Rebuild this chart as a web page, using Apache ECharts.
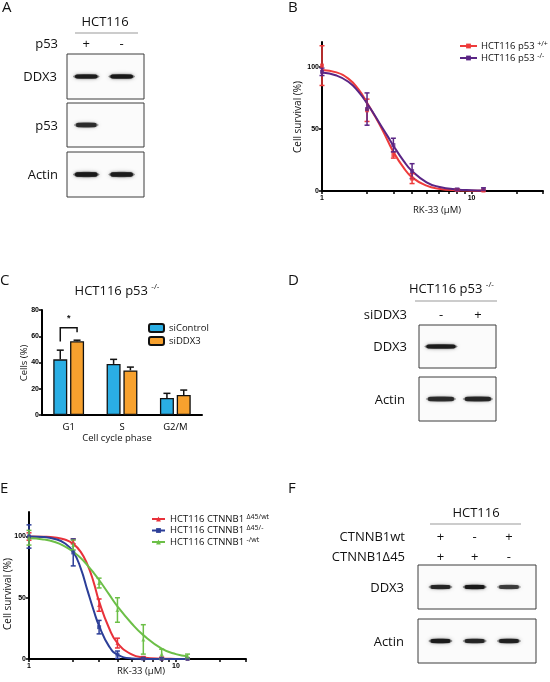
<!DOCTYPE html>
<html><head><meta charset="utf-8">
<script src="https://cdn.jsdelivr.net/npm/echarts@6/dist/echarts.min.js"></script>
<style>html,body{margin:0;padding:0;background:#fff}#c{width:550px;height:682px}</style>
</head><body><div id="c"></div><script>
// ================= DATA =================
// Panel B: RK-33 dose response, HCT116 p53+/+ vs p53-/-
const concB = [1, 2, 3, 4, 8, 12];
const bWtMean = [101, 65, 29, 10, 0.8, 0.3];
const bWtSd   = [16, 9, 2.5, 4, 0.6, 0.3];
const bKoMean = [96, 66, 37, 16, 1.2, 1.5];
const bKoSd   = [3, 13, 5.5, 6, 0.8, 1];
const curveXB = [1, 1.25, 1.5, 1.75, 2, 2.25, 2.5, 2.75, 3, 3.5, 4, 5, 6, 8, 10, 12];
const bWtCurve = [97.5, 95.5, 90.5, 82, 71, 60.5, 50.5, 40.5, 31.5, 19, 11, 4.3, 1.9, 0.6, 0.3, 0.2];
const bKoCurve = [95.5, 93, 88, 80, 70.5, 61, 52, 44, 36.5, 24.5, 16, 7, 3.5, 1.2, 0.6, 0.4];
const xTicksLog = [1, 2, 3, 4, 5, 6, 7, 8, 9, 10, 20, 30];
const xLabelsLog = [1, 10];
const yTicksSurv = [0, 50, 100];

// Panel C: cell cycle
const phases = ['G1', 'S', 'G2/M'];
const ctrlMean = [42.4, 38.9, 13];
const ctrlSd   = [7, 3.5, 3.5];
const ddxMean  = [56.2, 34, 15.2];
const ddxSd    = [0.8, 2.5, 3.8];
const sigBracket = [[0, 66.5, 56, 63]]; // [category, bracket y, left leg end, right leg end]

// Panel E: RK-33 dose response, CTNNB1 lines
const concE = [1, 2, 3, 4, 6, 8, 12];
const eD45wtMean = [100, 96, 44, 13, 1, 0.5, 0.2];
const eD45wtSd   = [3, 2, 5, 4, 1, 1, 0.5];
const eD45koMean = [100, 87, 26, 3.5, 0.3, 0.2, 0.1];
const eD45koSd   = [9.5, 11, 5.5, 3, 0.5, 0.5, 0.3];
const eKoWtMean  = [99, 93, 62, 40, 16, 4, 2];
const eKoWtSd    = [6, 4, 4, 10, 12, 4, 2];
const curveXE = [1, 1.25, 1.5, 1.75, 2, 2.25, 2.5, 2.75, 3, 3.5, 4, 5, 6, 8, 10, 12];
const eD45wtCurve = [100, 99.8, 99.2, 97.5, 94, 87.5, 77, 63, 47, 25.5, 13, 3.8, 1.3, 0.3, 0.1, 0];
const eD45koCurve = [100, 99.6, 98, 94.5, 87.5, 74, 56, 40, 27, 10.5, 3.6, 0.5, 0.1, 0, 0, 0];
const eKoWtCurve  = [98.5, 97.6, 95.5, 92, 87.5, 82.5, 76.5, 70.5, 64.5, 53, 43, 29, 19.5, 8.5, 4, 2.2];

// Western blots (band intensity 0..1 per lane)
const lanesA = [1, 2];
const signsA_p53 = ['+', '-'];
const bandA_DDX3 = [0.9, 0.95];
const bandA_p53 = [0.75, 0];
const bandA_Actin = [0.95, 0.9];

const lanesD = [1, 2];
const signsD_si = ['-', '+'];
const bandD_DDX3 = [0.9, 0];
const bandD_Actin = [0.75, 0.8];

const lanesF = [1, 2, 3];
const signsF_wt = ['+', '-', '+'];
const signsF_d45 = ['+', '+', '-'];
const bandF_DDX3 = [0.8, 0.95, 0.65];
const bandF_Actin = [0.9, 0.8, 0.85];

// ================= STYLE / LAYOUT =================
const FONT = "'Open Sans', 'Noto Sans', sans-serif";
const NUMFONT = "'Liberation Sans', Arial, sans-serif";
const C_RED = '#ee3b3b', C_PUR = '#5a2585';
const C_ERED = '#e8313a', C_EBLU = '#2c3e98', C_EGRN = '#6cbf47';
const C_SKY = '#2aaee4', C_ORG = '#f7a12e';

const chart = echarts.init(document.getElementById('c'), null, {renderer: 'canvas'});

const grids = [];
const xAxes = [];
const yAxes = [];
const series = [];
const graphics = [];

function logXAxis(gi) {
  return {
    type: 'log', logBase: 10, min: 1, max: 30, gridIndex: gi,
    axisLine: {lineStyle: {color: '#000', width: 2}},
    axisTick: {customValues: xTicksLog, length: 3, lineStyle: {color: '#000', width: 1.5}},
    axisLabel: {customValues: xLabelsLog, fontFamily: NUMFONT, fontWeight: 'bold', fontSize: 7, color: '#000', margin: 4},
    splitLine: {show: false}, minorTick: {show: false}
  };
}
function survYAxis(gi) {
  return {
    type: 'value', min: 0, max: 120, gridIndex: gi,
    axisLine: {show: true, lineStyle: {color: '#000', width: 2}},
    axisTick: {show: true, customValues: yTicksSurv, length: 3, lineStyle: {color: '#000', width: 1.5}},
    axisLabel: {customValues: yTicksSurv, fontFamily: NUMFONT, fontWeight: 'bold', fontSize: 7, color: '#000', margin: 3},
    splitLine: {show: false}
  };
}

function errRender(cap) {
  return function (params, api) {
    const x = api.value(0), m = api.value(1), s = api.value(2);
    const t = api.coord([x, m + s]), b = api.coord([x, Math.max(m - s, 0)]);
    const st = {stroke: api.visual('color'), lineWidth: 1.5};
    return {type: 'group', children: [
      {type: 'line', shape: {x1: t[0], y1: t[1], x2: b[0], y2: b[1]}, style: st},
      {type: 'line', shape: {x1: t[0] - cap, y1: t[1], x2: t[0] + cap, y2: t[1]}, style: st},
      {type: 'line', shape: {x1: b[0] - cap, y1: b[1], x2: b[0] + cap, y2: b[1]}, style: st}
    ]};
  };
}
function zip3(a, b, c) { return a.map((v, i) => [v, b[i], c[i]]); }
function zip2(a, b) { return a.map((v, i) => [v, b[i]]); }

function doseSeries(name, color, gi, cx, cy, px, pm, ps, sym) {
  series.push({
    name: name, type: 'line', xAxisIndex: gi, yAxisIndex: gi, data: zip2(cx, cy),
    smooth: 0.5, symbol: sym, symbolSize: 5, showSymbol: false,
    lineStyle: {color: color, width: 2}, itemStyle: {color: color}, z: 3
  });
  series.push({
    name: name + ' pts', type: 'scatter', xAxisIndex: gi, yAxisIndex: gi, data: zip2(px, pm),
    symbol: sym, symbolSize: 4, itemStyle: {color: color}, z: 4
  });
  series.push({
    name: name + ' err', type: 'custom', xAxisIndex: gi, yAxisIndex: gi, data: zip3(px, pm, ps),
    encode: {x: 0, y: 1}, renderItem: errRender(2.5), itemStyle: {color: color}, z: 4
  });
}

// ----- Panel B (grid 0)
grids.push({left: 322, top: 42, width: 221, height: 149});
xAxes.push(logXAxis(0));
yAxes.push(survYAxis(0));
const B_WT = 'HCT116 p53 +/+', B_KO = 'HCT116 p53 -/-';
doseSeries(B_WT, C_RED, 0, curveXB, bWtCurve, concB, bWtMean, bWtSd, 'rect');
doseSeries(B_KO, C_PUR, 0, curveXB, bKoCurve, concB, bKoMean, bKoSd, 'rect');

// ----- Panel C (grid 1)
grids.push({left: 42, top: 310, width: 160, height: 105});
xAxes.push({
  type: 'category', data: phases, gridIndex: 1,
  axisLine: {lineStyle: {color: '#000', width: 2}}, axisTick: {show: false},
  axisLabel: {fontFamily: FONT, fontSize: 9.5, color: '#000', margin: 7}
});
yAxes.push({
  type: 'value', min: 0, max: 80, interval: 20, gridIndex: 1,
  axisLine: {show: true, lineStyle: {color: '#000', width: 2}},
  axisTick: {show: true, length: 3, lineStyle: {color: '#000', width: 1.5}},
  axisLabel: {fontFamily: NUMFONT, fontWeight: 'bold', fontSize: 7, color: '#000', margin: 3},
  splitLine: {show: false}
});
const BAR_W = 14, BAR_GAP = 0.2;
const barOff = (BAR_W + BAR_W * BAR_GAP) / 2;
series.push({name: 'siControl', type: 'bar', xAxisIndex: 1, yAxisIndex: 1, data: ctrlMean,
  barWidth: BAR_W, barGap: (BAR_GAP * 100) + '%',
  itemStyle: {color: C_SKY, borderColor: '#111', borderWidth: 1.3}});
series.push({name: 'siDDX3', type: 'bar', xAxisIndex: 1, yAxisIndex: 1, data: ddxMean,
  barWidth: BAR_W, barGap: (BAR_GAP * 100) + '%',
  itemStyle: {color: C_ORG, borderColor: '#111', borderWidth: 1.3}});
function barErr(sign) {
  return function (params, api) {
    const c = api.value(0), m = api.value(1), s = api.value(2);
    const t = api.coord([c, m + s]), b = api.coord([c, m]);
    const x = t[0] + sign * barOff;
    const st = {stroke: '#111', lineWidth: 1.5};
    return {type: 'group', children: [
      {type: 'line', shape: {x1: x, y1: t[1], x2: x, y2: b[1]}, style: st},
      {type: 'line', shape: {x1: x - 3.5, y1: t[1], x2: x + 3.5, y2: t[1]}, style: st}
    ]};
  };
}
series.push({name: 'siControl err', type: 'custom', xAxisIndex: 1, yAxisIndex: 1,
  data: phases.map((p, i) => [i, ctrlMean[i], ctrlSd[i]]), encode: {x: 0, y: 1},
  renderItem: barErr(-1), z: 5});
series.push({name: 'siDDX3 err', type: 'custom', xAxisIndex: 1, yAxisIndex: 1,
  data: phases.map((p, i) => [i, ddxMean[i], ddxSd[i]]), encode: {x: 0, y: 1},
  renderItem: barErr(1), z: 5});
series.push({name: 'sig', type: 'custom', xAxisIndex: 1, yAxisIndex: 1, data: sigBracket,
  encode: {x: 0, y: 1}, z: 5,
  renderItem: function (params, api) {
    const c = api.value(0), y = api.value(1), l = api.value(2), r = api.value(3);
    const p = api.coord([c, y]);
    const pl = api.coord([c, l]), pr = api.coord([c, r]);
    const xl = p[0] - barOff, xr = p[0] + barOff;
    const st = {stroke: '#111', lineWidth: 1.5, fill: null};
    return {type: 'group', children: [
      {type: 'polyline', shape: {points: [[xl, pl[1]], [xl, p[1]], [xr, p[1]], [xr, pr[1]]]}, style: st},
      {type: 'text', style: {text: '*', x: p[0], y: p[1] - 5, align: 'center', verticalAlign: 'bottom',
        fontFamily: NUMFONT, fontWeight: 'bold', fontSize: 9, fill: '#111'}}
    ]};
  }});

// ----- Panel E (grid 2)
grids.push({left: 29, top: 512, width: 217, height: 147});
xAxes.push(logXAxis(2));
yAxes.push(survYAxis(2));
const E1 = 'HCT116 CTNNB1 D45/wt', E2 = 'HCT116 CTNNB1 D45/-', E3 = 'HCT116 CTNNB1 -/wt';
doseSeries(E1, C_ERED, 2, curveXE, eD45wtCurve, concE, eD45wtMean, eD45wtSd, 'triangle');
doseSeries(E2, C_EBLU, 2, curveXE, eD45koCurve, concE, eD45koMean, eD45koSd, 'rect');
doseSeries(E3, C_EGRN, 2, curveXE, eKoWtCurve, concE, eKoWtMean, eKoWtSd, 'triangle');

// ----- Blots
function bandRender(h, bw) {
  return function (params, api) {
    const lane = api.value(0), v = api.value(1);
    if (!(v > 0)) return null;
    const c = api.coord([lane, 0.5]);
    const w = api.size([bw, 0])[0];
    return {type: 'group', children: [
      {type: 'ellipse', shape: {cx: c[0], cy: c[1], rx: w / 2, ry: h / 2 + 0.6},
        style: {fill: 'rgba(30,30,30,' + (0.5 * v) + ')', shadowBlur: 4, shadowColor: 'rgba(30,30,30,' + (0.6 * v) + ')'}},
      {type: 'rect', shape: {x: c[0] - w / 2 + 2, y: c[1] - h / 2, width: w - 4, height: h, r: h / 2},
        style: {fill: 'rgba(22,22,22,' + v + ')', shadowBlur: 2, shadowColor: 'rgba(22,22,22,' + (0.7 * v) + ')'}}
    ]};
  };
}
const blotLayout = [
  {box: [67, 54, 77, 45], xr: [0.456, 2.63], lanes: lanesA, data: bandA_DDX3, h: 4, bw: 0.75, label: 'DDX3', lx: 57},
  {box: [67, 103, 77, 44], xr: [0.456, 2.63], lanes: lanesA, data: bandA_p53, h: 4.5, bw: 0.7, label: 'p53', lx: 58},
  {box: [67, 152, 77, 45], xr: [0.456, 2.63], lanes: lanesA, data: bandA_Actin, h: 4.5, bw: 0.75, label: 'Actin', lx: 58},
  {box: [419, 325, 77, 43], xr: [0.405, 2.49], lanes: lanesD, data: bandD_DDX3, h: 4, bw: 0.9, label: 'DDX3', lx: 407},
  {box: [419, 377, 77, 44], xr: [0.405, 2.49], lanes: lanesD, data: bandD_Actin, h: 4.5, bw: 0.82, label: 'Actin', lx: 405},
  {box: [418, 565, 118, 44], xr: [0.344, 3.79], lanes: lanesF, data: bandF_DDX3, h: 3.8, bw: 0.7, label: 'DDX3', lx: 404},
  {box: [418, 619, 118, 44], xr: [0.344, 3.79], lanes: lanesF, data: bandF_Actin, h: 4.2, bw: 0.7, label: 'Actin', lx: 404}
];
blotLayout.forEach(function (b) {
  const gi = grids.length;
  grids.push({left: b.box[0], top: b.box[1], width: b.box[2], height: b.box[3], show: true,
    borderColor: '#3c3c3c', borderWidth: 1, backgroundColor: '#fbfbfb'});
  xAxes.push({type: 'value', min: b.xr[0], max: b.xr[1], gridIndex: gi, show: false});
  yAxes.push({type: 'value', min: 0, max: 1, gridIndex: gi, show: false});
  series.push({type: 'custom', xAxisIndex: gi, yAxisIndex: gi, data: zip2(b.lanes, b.data),
    encode: {x: 0, y: 1}, renderItem: bandRender(b.h, b.bw), clip: true, silent: true});
  graphics.push({type: 'text', x: b.lx, y: b.box[1] + b.box[3] / 2 + 1,
    style: {text: b.label, font: '13px ' + FONT, fill: '#111', align: 'right', verticalAlign: 'middle'}});
});
function laneX(b, lane) { return b.box[0] + (lane - b.xr[0]) / (b.xr[1] - b.xr[0]) * b.box[2]; }
function signRow(b, signs, lanes, y) {
  signs.forEach(function (s, i) {
    graphics.push({type: 'text', x: laneX(b, lanes[i]), y: y,
      style: {text: s, font: '13px ' + FONT, fill: '#111', align: 'center', verticalAlign: 'middle'}});
  });
}
signRow(blotLayout[0], signsA_p53, lanesA, 44);
signRow(blotLayout[3], signsD_si, lanesD, 315);
signRow(blotLayout[5], signsF_wt, lanesF, 537);
signRow(blotLayout[5], signsF_d45, lanesF, 557);

// ----- Text annotations
function txt(x, y, text, size, align, extra) {
  const o = {type: 'text', x: x, y: y, style: Object.assign({text: text, font: size + 'px ' + FONT, fill: '#111',
    align: align || 'left', verticalAlign: 'middle'}, extra || {})};
  graphics.push(o);
  return o;
}
function lineG(x1, y1, x2, y2, color) {
  graphics.push({type: 'line', shape: {x1: x1, y1: y1, x2: x2, y2: y2}, style: {stroke: color || '#9a9a9a', lineWidth: 1.2}});
}
const supRich = function (big, small) {
  return {a: {fontSize: big, fontFamily: FONT, lineHeight: big + 4, fill: '#111'},
          s: {fontSize: small, fontFamily: FONT, lineHeight: small, verticalAlign: 'top', fill: '#111'}};
};
// Panel letters
txt(2, 8, 'A', 15); txt(288, 8, 'B', 15); txt(0, 281, 'C', 15);
txt(288, 281, 'D', 15); txt(0, 489, 'E', 15); txt(288, 489, 'F', 15);
// A
txt(105, 22, 'HCT116', 13, 'center'); lineG(75, 33, 138, 33);
txt(58, 44, 'p53', 13, 'right');
// D
graphics.push({type: 'text', x: 409, y: 289, style: {text: '{a|HCT116 p53 }{s|-/-}', rich: supRich(13, 8), verticalAlign: 'middle'}});
lineG(415, 301, 497, 301);
txt(407, 315, 'siDDX3', 13, 'right');
// F
txt(476, 513, 'HCT116', 13, 'center'); lineG(430, 524, 521, 524);
txt(405, 537, 'CTNNB1wt', 13, 'right');
txt(405, 557, 'CTNNB1\u039445', 13, 'right');
// C title and axes names
graphics.push({type: 'text', x: 117, y: 291, style: {text: '{a|HCT116 p53 }{s|-/-}', rich: supRich(13, 8), align: 'center', verticalAlign: 'middle'}});
txt(117, 438, 'Cell cycle phase', 9.5, 'center');
graphics.push({type: 'text', x: 24, y: 363, rotation: Math.PI / 2,
  style: {text: 'Cells (%)', font: '9.5px ' + FONT, fill: '#111', align: 'center', verticalAlign: 'middle'}});
// B axis names
graphics.push({type: 'text', x: 298, y: 117, rotation: Math.PI / 2,
  style: {text: 'Cell survival (%)', font: '10px ' + FONT, fill: '#111', align: 'center', verticalAlign: 'middle'}});
txt(437, 210, 'RK-33 (\u00b5M)', 9.5, 'center');
// E axis names
graphics.push({type: 'text', x: 8, y: 594, rotation: Math.PI / 2,
  style: {text: 'Cell survival (%)', font: '10px ' + FONT, fill: '#111', align: 'center', verticalAlign: 'middle'}});
txt(141, 671, 'RK-33 (\u00b5M)', 9.5, 'center');

// ----- Legends
const legendRich = {a: {fontSize: 9.5, fontFamily: FONT, lineHeight: 12, color: '#111'},
                    s: {fontSize: 7, fontFamily: FONT, lineHeight: 7, verticalAlign: 'top', color: '#111'}};
const legendLabels = {};
legendLabels[B_WT] = '{a|HCT116 p53 }{s|+/+}';
legendLabels[B_KO] = '{a|HCT116 p53 }{s|-/-}';
legendLabels[E1] = '{a|HCT116 CTNNB1 }{s|\u039445/wt}';
legendLabels[E2] = '{a|HCT116 CTNNB1 }{s|\u039445/-}';
legendLabels[E3] = '{a|HCT116 CTNNB1 }{s|-/wt}';
function legFmt(n) { return legendLabels[n] || n; }
const legends = [
  {data: [B_WT, B_KO], left: 459, top: 40, padding: 0, orient: 'vertical', itemWidth: 17, itemHeight: 6, itemGap: 1,
    formatter: legFmt, textStyle: {rich: legendRich, padding: [0, 0, 0, -1]}, selectedMode: false},
  {data: ['siControl', 'siDDX3'], left: 148, top: 323, padding: 0, orient: 'vertical', itemWidth: 15, itemHeight: 8, itemGap: 3,
    textStyle: {fontFamily: FONT, fontSize: 9.5, color: '#111'}, selectedMode: false},
  {data: [E1, E2, E3], left: 151, top: 513, padding: 0, orient: 'vertical', itemWidth: 13, itemHeight: 6, itemGap: 0.5,
    formatter: legFmt, textStyle: {rich: legendRich}, selectedMode: false}
];

chart.setOption({
  animation: false,
  backgroundColor: '#fff',
  grid: grids, xAxis: xAxes, yAxis: yAxes, series: series,
  legend: legends, graphic: {elements: graphics}
});
</script></body></html>
